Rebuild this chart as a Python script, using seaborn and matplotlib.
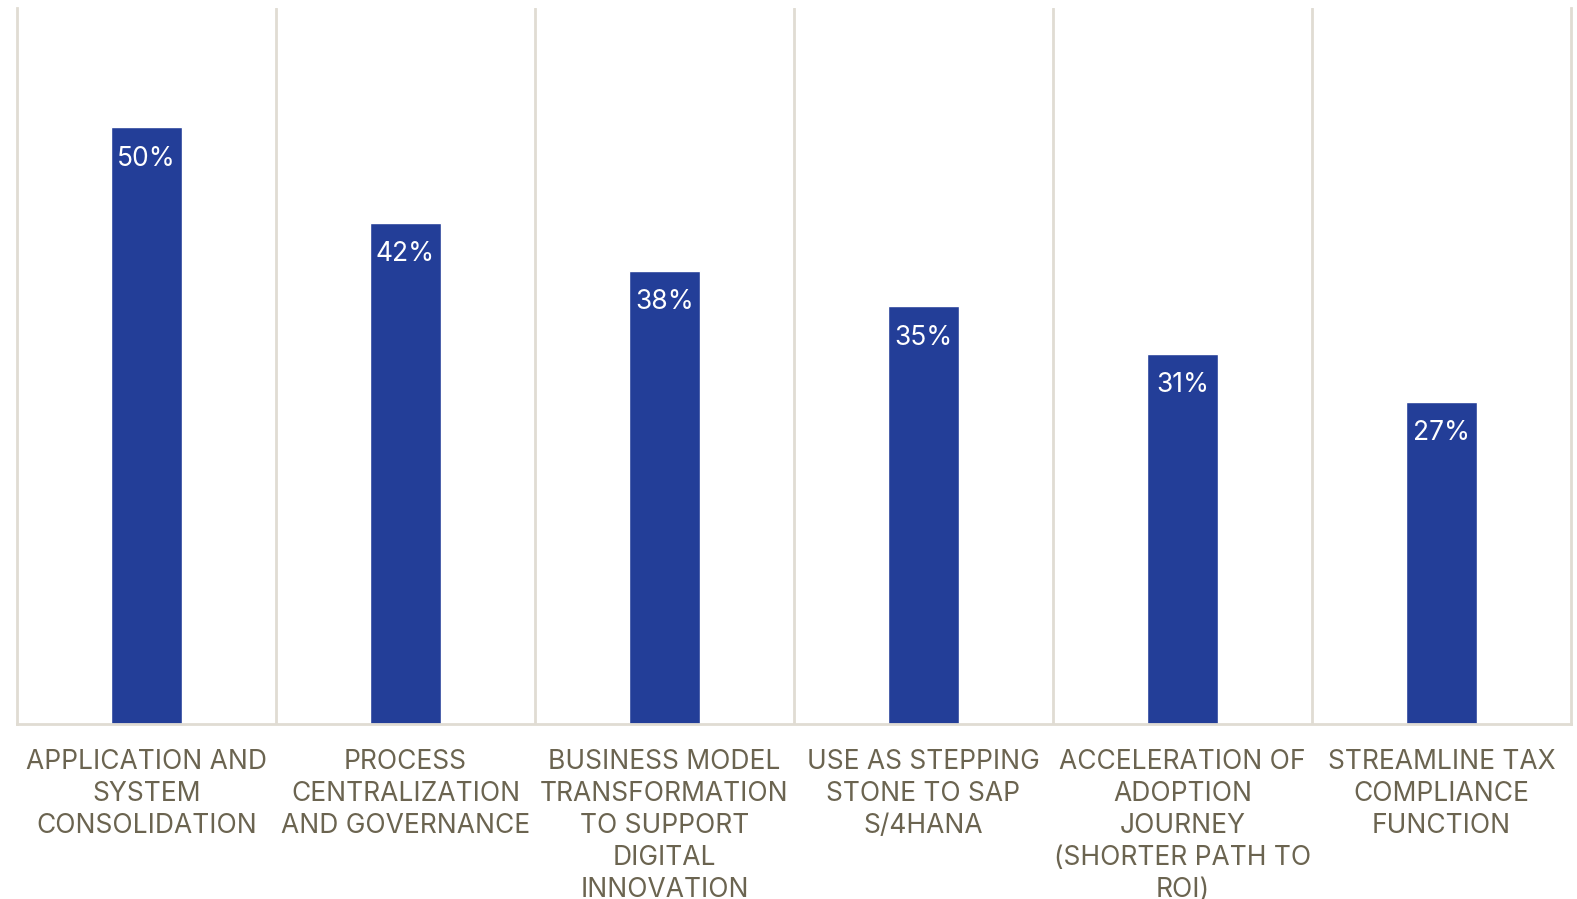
import matplotlib
matplotlib.use("Agg")
import matplotlib.pyplot as plt
import seaborn as sns
import pandas as pd

categories = [
    "APPLICATION AND\nSYSTEM\nCONSOLIDATION",
    "PROCESS\nCENTRALIZATION\nAND GOVERNANCE",
    "BUSINESS MODEL\nTRANSFORMATION\nTO SUPPORT\nDIGITAL\nINNOVATION",
    "USE AS STEPPING\nSTONE TO SAP\nS/4HANA",
    "ACCELERATION OF\nADOPTION\nJOURNEY\n(SHORTER PATH TO\nROI)",
    "STREAMLINE TAX\nCOMPLIANCE\nFUNCTION",
]
values = [50, 42, 38, 35, 31, 27]

BAR_COLOR = "#233E98"
GRID_COLOR = "#E0DCD3"
TEXT_COLOR = "#6B6450"

sns.set_theme(style="white")
plt.rcParams["font.family"] = ["Inter", "DejaVu Sans"]

df = pd.DataFrame({"category": categories, "value": values})

fig = plt.figure(figsize=(15.77, 8.99), dpi=100)
ax = fig.add_axes([17 / 1577, 1 - 724 / 899, 1554 / 1577, 716 / 899])

sns.barplot(data=df, x="category", y="value", color=BAR_COLOR,
            width=0.274, saturation=1, ax=ax)

ax.set_xlim(-0.5, len(categories) - 0.5)
ax.set_ylim(0, 60)
ax.set_yticks([])
ax.set_xlabel("")
ax.set_ylabel("")

# separators between categories
for i in range(len(categories) - 1):
    ax.axvline(i + 0.5, color=GRID_COLOR, lw=2, zorder=0)

for side in ["left", "right", "bottom"]:
    ax.spines[side].set_color(GRID_COLOR)
    ax.spines[side].set_linewidth(2)
ax.spines["top"].set_visible(False)

ax.tick_params(axis="x", length=0, pad=18)
ax.set_xticks(range(len(categories)))
ax.set_xticklabels(categories, fontsize=19, color=TEXT_COLOR,
                   linespacing=1.30, va="top", ha="center")

for i, v in enumerate(values):
    ax.annotate(f"{v}%", xy=(i, v), xytext=(0, -22.5), textcoords="offset points",
                ha="center", va="center", color="white", fontsize=19)

fig.savefig("out.png", dpi=100)
